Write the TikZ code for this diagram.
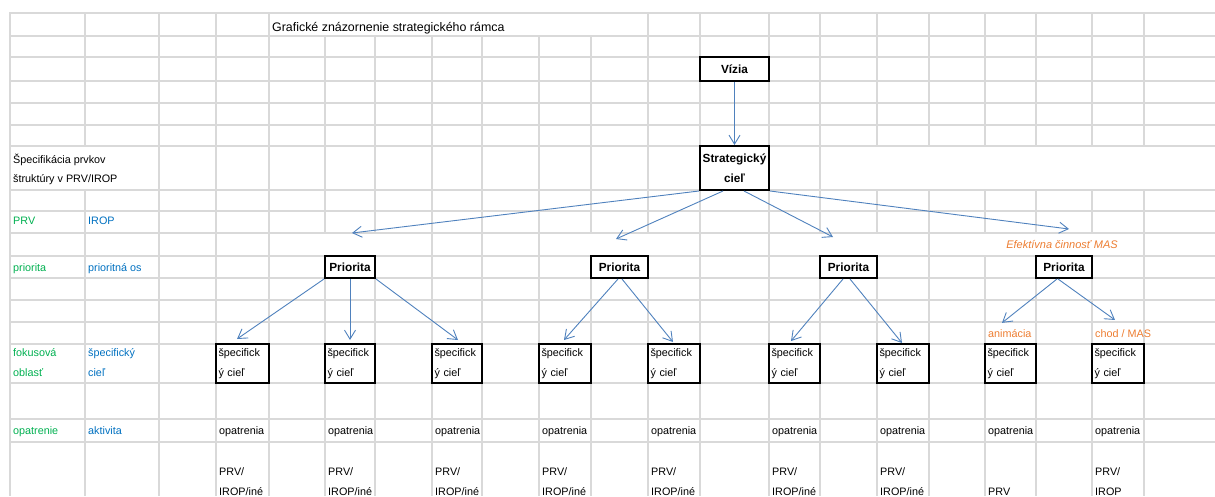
\documentclass[tikz,border=0pt]{standalone}
\usepackage{fontspec}
\setmainfont{Liberation Sans}
\usepackage{xcolor}
\usetikzlibrary{arrows.meta,calc}

\definecolor{gridgray}{RGB}{217,217,217}
\definecolor{linkblue}{RGB}{79,129,189}
\definecolor{prvgreen}{RGB}{0,176,80}
\definecolor{iropblue}{RGB}{0,112,192}
\definecolor{masorange}{RGB}{237,125,49}

\begin{document}
\begin{tikzpicture}[x=1pt, y=-1pt,
    gridline/.style={draw=gridgray, line width=1.4pt},
    cell/.style={anchor=base west, inner sep=0pt, font=\fontsize{10.8}{20}\selectfont},
    headbox/.style={draw, line width=2pt, inner sep=0pt, align=center, font=\bfseries\fontsize{11.8}{20}\selectfont},
    goalbox/.style={draw, line width=2pt, inner xsep=2.5pt, inner ysep=0pt, minimum height=39pt, align=left, font=\fontsize{10.8}{20}\selectfont},
    link/.style={draw=linkblue, line width=0.9pt, -{Straight Barb[length=9pt,width=11pt]}}]

    \useasboundingbox (0,0) rectangle (1215,496);

    % spreadsheet grid
    \foreach \x in {10,85,159,216,269,325,375,432,482,539,591,648,700,769,820,877,929,985,1036,1092,1144}
        \draw[gridline] (\x,13) -- (\x,496);
    % merged cells
    \fill[white] (270,13) rectangle (647,36);
    \fill[white] (11,146) rectangle (158,190);
    \fill[white] (821,146) rectangle (1216,190);
    \fill[white] (270,233) rectangle (431,256);
    \fill[white] (540,233) rectangle (699,256);
    \fill[white] (770,233) rectangle (928,256);
    \fill[white] (930,233) rectangle (1143,256);
    \foreach \y in {13,36,57,81,103,125,146,190,211,233,256,278,300,322,344,383,419,442}
        \draw[gridline] (9.3,\y) -- (1215,\y);

    % headings
    \node[cell, font=\fontsize{12.4}{15}\selectfont] (title) at (272,31) {Grafické znázornenie strategického rámca};
    \node[cell] (spec1) at (13,163) {Špecifikácia prvkov};
    \node[cell] (spec2) at (13,182) {štruktúry v PRV/IROP};

    % left columns
    \node[cell, text=prvgreen] (lprv) at (13,224) {PRV};
    \node[cell, text=iropblue] (lirop) at (88,224) {IROP};
    \node[cell, text=prvgreen] (lprio) at (13,271) {priorita};
    \node[cell, text=iropblue] (los) at (88,271) {prioritná os};
    \node[cell, text=prvgreen] (lfok1) at (13,356) {fokusová};
    \node[cell, text=prvgreen] (lfok2) at (13,376) {oblasť};
    \node[cell, text=iropblue] (lsc1) at (88,356) {špecifický};
    \node[cell, text=iropblue] (lsc2) at (88,376) {cieľ};
    \node[cell, text=prvgreen] (lopat) at (13,434) {opatrenie};
    \node[cell, text=iropblue] (lakt) at (88,434) {aktivita};

    % vision and strategic goal
    \node[headbox, minimum width=69pt, minimum height=24pt] (vis) at (734.5,69) {Vízia};
    \node[headbox, minimum width=69pt, minimum height=44pt] (strat) at (734.5,168) {Strategický\\cieľ};
    \draw[link] (vis.south) -- (strat.north);

    % priorities
    \node[headbox, minimum width=50pt, minimum height=22pt] (prio1) at (350,267) {Priorita};
    \node[headbox, minimum width=57pt, minimum height=22pt] (prio2) at (619.5,267) {Priorita};
    \node[headbox, minimum width=57pt, minimum height=22pt] (prio3) at (848.5,267) {Priorita};
    \node[headbox, minimum width=56pt, minimum height=22pt] (prio4) at (1064,267) {Priorita};
    \node[cell, anchor=base, font=\itshape\fontsize{11}{14}\selectfont, text=masorange] (eff) at (1062,248) {Efektívna činnosť MAS};

    \draw[link] (strat.south west) -- ([xshift=2pt,yshift=22pt]prio1.north);
    \draw[link] ([xshift=-11.5pt]strat.south) -- ([xshift=-3.5pt,yshift=16pt]prio2.north);
    \draw[link] ([xshift=9.5pt]strat.south) -- ([xshift=-15.5pt,yshift=18pt]prio3.north);
    \draw[link] (strat.south east) -- ([xshift=5pt,yshift=26pt]prio4.north);

    % specific goals and measures
    \foreach \x/\w [count=\i, evaluate=\w as \tw using \w-5] in {216/53,325/50,432/50,539/52,648/52,769/51,877/52,985/51,1092/52} {
        \node[goalbox, minimum width=\w pt, text width=\tw pt] (goal\i) at ({\x+\w/2},363.5) {špecifick\\ý cieľ};
        \node[cell] (meas\i) at (\x+3,434) {opatrenia};
    }
    \foreach \x [count=\i] in {216,325,432,539,648,769,877} {
        \node[cell] (srcA\i) at (\x+3,475) {PRV/};
        \node[cell] (srcB\i) at (\x+3,495) {IROP/iné};
    }
    \node[cell] (srcB8) at (988,495) {PRV};
    \node[cell] (srcA9) at (1095,475) {PRV/};
    \node[cell] (srcB9) at (1095,495) {IROP};

    \node[cell, text=masorange] (anim) at (988,337) {animácia};
    \node[cell, text=masorange] (chod) at (1095,337) {chod / MAS};

    \draw[link] (prio1.south west) -- ([xshift=-5.5pt,yshift=4pt]goal1.north);
    \draw[link] (prio1.south) -- ([yshift=3pt]goal2.north);
    \draw[link] (prio1.south east) -- ([xshift=1pt,yshift=3pt]goal3.north);
    \draw[link] ([xshift=-1.5pt]prio2.south) -- ([xshift=-1pt,yshift=3pt]goal4.north);
    \draw[link] ([xshift=2.5pt]prio2.south) -- ([xshift=-1pt,yshift=1pt]goal5.north);
    \draw[link] ([xshift=-5.5pt]prio3.south) -- ([xshift=-3.5pt,yshift=2pt]goal6.north);
    \draw[link] ([xshift=1.5pt]prio3.south) -- ([xshift=-1pt,yshift=0pt]goal7.north);
    \draw[link] ([xshift=-7pt]prio4.south) -- ([xshift=14pt,yshift=6pt]anim.north west);
    \draw[link] ([xshift=-6pt]prio4.south) -- ([xshift=20pt,yshift=9pt]chod.north west);
\end{tikzpicture}
\end{document}
